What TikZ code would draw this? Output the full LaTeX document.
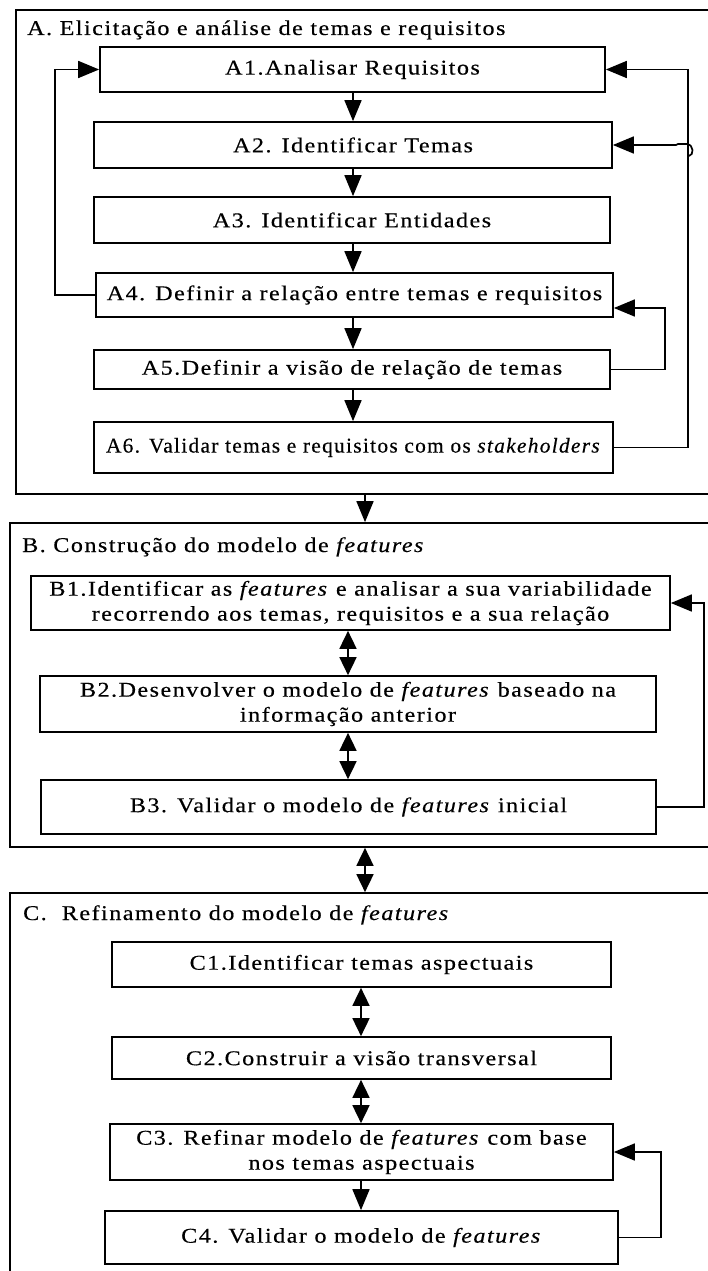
\documentclass[tikz,border=0pt]{standalone}
\usepackage{graphicx}
\usepackage{fontspec}
\setmainfont{Liberation Serif}[FakeStretch=1.15,LetterSpace=7,FakeBold=0.4]
\usetikzlibrary{arrows.meta}

\newcommand\boxfont{\fontsize{21}{25}\selectfont}

\tikzset{
  stepbox/.style={draw, line width=1.7pt, rectangle, inner sep=0pt,
    align=center, font=\boxfont},
  framebox/.style={draw, line width=1.7pt, rectangle, inner sep=0pt},
  heading/.style={anchor=base west, inner sep=0pt, font=\boxfont},
  flow/.style={line width=1.7pt, -{Triangle[length=21pt,width=17pt]}},
  biflow/.style={line width=1.7pt,
    {Triangle[length=18pt,width=17pt]}-{Triangle[length=18pt,width=17pt]}},
}

\begin{document}
\begin{tikzpicture}[x=1pt,y=-1pt]
\useasboundingbox (0,0) rectangle (708,1271);
\clip (0,0) rectangle (708,1271);

% phase frames
\node[framebox, minimum width=714pt, minimum height=484pt] (FA) at (373,252) {};
\node[framebox, minimum width=720pt, minimum height=324pt] (FB) at (370,685) {};
\node[framebox, minimum width=720pt, minimum height=407pt] (FC) at (370,1096.5) {};

\node[heading] (tA) at (27,35) {A. Elicitação e análise de temas e requisitos};
\node[heading] (tB) at (22,552) {B. Construção do modelo de \textit{features}};
\node[heading] (tC) at (23,920) {C.\ \ Refinamento do modelo de \textit{features}};

% phase A
\node[stepbox, minimum width=505pt, minimum height=45pt] (A1) at (352.5,69.5) {A1.Analisar Requisitos};
\node[stepbox, minimum width=518pt, minimum height=46pt] (A2) at (353,145) {A2. Identificar Temas};
\node[stepbox, minimum width=516pt, minimum height=46pt] (A3) at (352,220) {A3. Identificar Entidades};
\node[stepbox, minimum width=517pt, minimum height=44pt] (A4) at (354.5,295) {A4. Definir a relação entre temas e requisitos};
\node[stepbox, minimum width=516pt, minimum height=39pt] (A5) at (352,369.5) {A5.Definir a visão de relação de temas};
\node[stepbox, minimum width=519pt, minimum height=51pt] (A6) at (353.5,447.5) {\scalebox{0.885}[1]{A6. Validar temas e requisitos com os \textit{stakeholders}}};

\coordinate (acol) at (353,0);
\draw[flow] (A1.south -| acol) -- (A2.north -| acol);
\draw[flow] (A2.south -| acol) -- (A3.north -| acol);
\draw[flow] (A3.south -| acol) -- (A4.north -| acol);
\draw[flow] (A4.south -| acol) -- (A5.north -| acol);
\draw[flow] (A5.south -| acol) -- (A6.north -| acol);

% feedback loops of phase A
\coordinate (lx) at (55,0);
\coordinate (rx) at (688,0);
\coordinate (mx) at (665,0);
\coordinate (a4in) at ([yshift=-13pt]A4.east);
\draw[flow] (A4.west) -| (lx |- A1.west) -- (A1.west);
\draw[flow] (A6.east) -| (rx |- A1.east) -- (A1.east);
\draw[flow] (A5.east) -| (mx |- a4in) -- (a4in);
\coordinate (hop) at (689,156);
\draw[flow] (hop) .. controls (694,155) and (694,145) .. (687,144) -- (678,144) -- (676,145) -- (A2.east);

% phase A to phase B
\coordinate (abx) at (365,0);
\draw[flow] (FA.south -| abx) -- (FB.north -| abx);

% phase B
\node[stepbox, minimum width=639pt, minimum height=54pt] (B1) at (350.5,603) {B1.Identificar as \textit{features} e analisar a sua variabilidade\\recorrendo aos temas, requisitos e a sua relação};
\node[stepbox, minimum width=616pt, minimum height=56pt] (B2) at (348,704) {B2.Desenvolver o modelo de \textit{features} baseado na\\informação anterior};
\node[stepbox, minimum width=615pt, minimum height=54pt] (B3) at (348.5,807) {B3. Validar o modelo de \textit{features} inicial};

\coordinate (bcol) at (348,0);
\draw[biflow] (B1.south -| bcol) -- (B2.north -| bcol);
\draw[biflow] (B2.south -| bcol) -- (B3.north -| bcol);
\coordinate (bx) at (704,0);
\draw[flow] (B3.east) -| (bx |- B1.east) -- (B1.east);

% phase B to phase C
\draw[biflow] (FB.south -| abx) -- (FC.north -| abx);

% phase C
\node[stepbox, minimum width=499pt, minimum height=45pt] (C1) at (361.5,964.5) {C1.Identificar temas aspectuais};
\node[stepbox, minimum width=499pt, minimum height=42pt] (C2) at (361.5,1058) {C2.Construir a visão transversal};
\node[stepbox, minimum width=503pt, minimum height=56pt] (C3) at (361.5,1152) {C3. Refinar modelo de \textit{features} com base\\nos temas aspectuais};
\node[stepbox, minimum width=513pt, minimum height=53pt] (C4) at (361.5,1237.5) {C4. Validar o modelo de \textit{features}};

\coordinate (ccol) at (361,0);
\draw[biflow] (C1.south -| ccol) -- (C2.north -| ccol);
\draw[biflow] (C2.south -| ccol) -- (C3.north -| ccol);
\draw[flow] (C3.south -| ccol) -- (C4.north -| ccol);
\coordinate (cx) at (661,0);
\draw[flow] (C4.east) -| (cx |- C3.east) -- (C3.east);
\end{tikzpicture}
\end{document}
